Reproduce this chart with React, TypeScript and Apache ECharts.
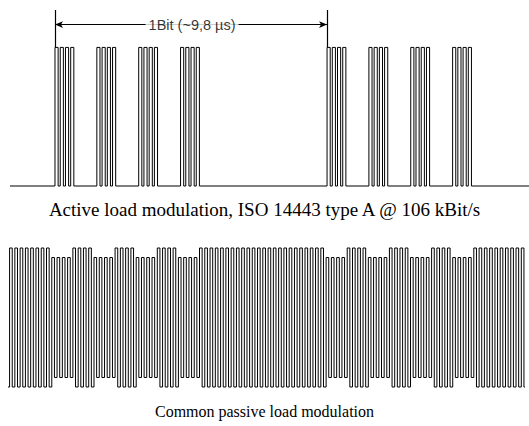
import React, { useEffect, useRef } from "react";
import * as echarts from "echarts";

// Time unit: one carrier cycle (schematic drawing)
const burstStarts = [0, 8, 16, 24, 52, 60, 68, 76]; // subcarrier bursts (load modulation on)
const pulsesPerBurst = 4;
const pulseOnFraction = 0.6; // part of a cycle an active pulse is on
const bitBoundaries = [0, 52];
const bitLabel = "1Bit (~9,8 µs)";
const activeRange = [-8.6, 90.6];
const passiveRange = [-8.3, 89.7];
const unmodulatedAmp = 1;
const modulatedAmp = 0.863;
const captionActive = "Active load modulation, ISO 14443 type A @ 106 kBit/s";
const captionPassive = "Common passive load modulation";

function isModulated(c: number) {
  return burstStarts.some((b) => c >= b && c < b + pulsesPerBurst);
}

function activeWave() {
  const pts: number[][] = [[activeRange[0], 0]];
  burstStarts.forEach((b) => {
    for (let k = 0; k < pulsesPerBurst; k++) {
      const t = b + k;
      pts.push([t, 0], [t, 1], [t + pulseOnFraction, 1], [t + pulseOnFraction, 0]);
    }
  });
  pts.push([activeRange[1], 0]);
  return pts;
}

function passiveWave() {
  const pts: number[][] = [];
  const first = Math.ceil(passiveRange[0]) - 1;
  for (let c = first; c < passiveRange[1]; c++) {
    const a = isModulated(c) ? modulatedAmp : unmodulatedAmp;
    const s = Math.max(c, passiveRange[0]);
    if (pts.length === 0) pts.push([s, -a]);
    if (c + 0.5 > passiveRange[0]) pts.push([s, a], [c + 0.5, a]);
    pts.push([Math.max(c + 0.5, passiveRange[0]), -a], [Math.min(c + 1, passiveRange[1]), -a]);
  }
  return pts;
}

export default function App() {
  const ref = useRef<HTMLDivElement>(null);
  useEffect(() => {
    if (!ref.current) return;
    const chart = echarts.init(ref.current, null, { renderer: "svg" });
    const yTop = 1.27;
    const arrowY = 1.165;
    const serif = "'Liberation Serif', 'Times New Roman', serif";
    chart.setOption({
      animation: false,
      backgroundColor: "#fff",
      title: [
        {
          text: captionActive,
          left: "center",
          top: 195,
          textStyle: { fontFamily: serif, fontSize: 19, fontWeight: "normal", color: "#000" },
        },
        {
          text: captionPassive,
          left: "center",
          top: 398,
          textStyle: { fontFamily: serif, fontSize: 16, fontWeight: "normal", color: "#000" },
        },
      ],
      grid: [
        { left: 10, width: 519, top: 10, height: 176 },
        { left: 8, width: 517, top: 248, height: 139 },
      ],
      xAxis: [
        { type: "value", gridIndex: 0, min: activeRange[0], max: activeRange[1], show: false },
        { type: "value", gridIndex: 1, min: passiveRange[0], max: passiveRange[1], show: false },
      ],
      yAxis: [
        { type: "value", gridIndex: 0, min: 0, max: yTop, show: false },
        { type: "value", gridIndex: 1, min: -1, max: 1, show: false },
      ],
      series: [
        {
          type: "line",
          xAxisIndex: 0,
          yAxisIndex: 0,
          data: activeWave(),
          showSymbol: false,
          symbol: "none",
          clip: false,
          lineStyle: { color: "#000", width: 1 },
          markLine: {
            silent: true,
            symbol: ["arrow", "arrow"],
            symbolSize: [5, 8],
            label: { show: false },
            lineStyle: { color: "#000", width: 1.2, type: "solid" },
            data: [
              [
                { coord: [bitBoundaries[0], 1], symbol: "none" },
                { coord: [bitBoundaries[0], yTop], symbol: "none" },
              ],
              [
                { coord: [bitBoundaries[1], 1], symbol: "none" },
                { coord: [bitBoundaries[1], yTop], symbol: "none" },
              ],
              [
                { coord: [bitBoundaries[0], arrowY] },
                { coord: [bitBoundaries[1], arrowY] },
              ],
            ],
          },
        },
        {
          type: "scatter",
          xAxisIndex: 0,
          yAxisIndex: 0,
          z: 5,
          symbol: "rect",
          symbolSize: 1,
          itemStyle: { color: "rgba(0,0,0,0)" },
          data: [[(bitBoundaries[0] + bitBoundaries[1]) / 2 + 0.2, arrowY]],
          label: {
            show: true,
            position: "inside",
            formatter: bitLabel,
            fontFamily: "'Liberation Sans', Arial, sans-serif",
            fontSize: 14.5,
            color: "#000",
            backgroundColor: "#fff",
            padding: [0, 3],
          },
        },
        {
          type: "line",
          xAxisIndex: 1,
          yAxisIndex: 1,
          data: passiveWave(),
          showSymbol: false,
          symbol: "none",
          clip: false,
          lineStyle: { color: "#000", width: 1 },
        },
      ],
    });
    return () => chart.dispose();
  }, []);
  return (
    <div
      ref={ref}
      style={{ position: "fixed", left: 0, top: 0, width: 529, height: 426 }}
    />
  );
}
